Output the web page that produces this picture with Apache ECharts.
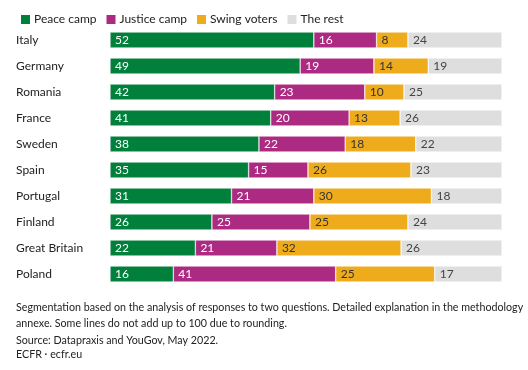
<!DOCTYPE html>
<html><head><meta charset="utf-8">
<script src="https://cdn.jsdelivr.net/npm/echarts@6/dist/echarts.min.js"></script>
<style>html,body{margin:0;padding:0;background:#fff}#c{width:528px;height:370px}</style>
</head><body><div id="c"></div>
<script>
const countries = ['Italy','Germany','Romania','France','Sweden','Spain','Portugal','Finland','Great Britain','Poland'];
const peace   = [52,49,42,41,38,35,31,26,22,16];
const justice = [16,19,23,20,22,15,21,25,21,41];
const swing   = [8,14,10,13,18,26,30,25,32,25];
const rest    = [24,19,25,26,22,23,18,24,26,17];
const seriesNames = ['Peace camp','Justice camp','Swing voters','The rest'];
const colors = ['#00803B','#AD2A82','#EEAC1D','#DEDEDE'];
const labelColors = ['#fff','#fff','#333','#444'];
const FONT = 'Lato';

const raw = [peace, justice, swing, rest];
const totals = countries.map((_, i) => raw.reduce((s, a) => s + a[i], 0));

const chart = echarts.init(document.getElementById('c'));
chart.setOption({
  animation: false,
  textStyle: { fontFamily: FONT },
  legend: {
    left: 14, top: 8, itemWidth: 11, itemHeight: 11, itemGap: 8,
    icon: 'rect',
    textStyle: { fontSize: 12, color: '#222', fontFamily: FONT, padding: [0,0,0,-2] },
    data: seriesNames
  },
  grid: { left: 110, right: 26, top: 27, bottom: 83, containLabel: false },
  xAxis: { type: 'value', min: 0, max: 100, show: false },
  yAxis: {
    type: 'category', data: countries, inverse: true,
    axisLine: { show: false }, axisTick: { show: false },
    axisLabel: { align: 'left', margin: 94, fontSize: 12, color: '#222', fontFamily: FONT }
  },
  series: raw.map((arr, k) => ({
    name: seriesNames[k], type: 'bar', stack: 'all', barWidth: 16,
    itemStyle: { color: colors[k], borderColor: '#fff', borderWidth: 0.5 },
    label: {
      show: true, position: 'insideLeft', distance: 5,
      color: labelColors[k], fontSize: 12, fontFamily: FONT,
      formatter: p => String(arr[p.dataIndex])
    },
    data: arr.map((v, i) => v / totals[i] * 100)
  })),
  graphic: [
    { type: 'text', left: 16, top: 300, style: { text: 'Segmentation based on the analysis of responses to two questions. Detailed explanation in the methodology\nannexe. Some lines do not add up to 100 due to rounding.', fontSize: 10.7, lineHeight: 16, fill: '#222', fontFamily: FONT } },
    { type: 'text', left: 16, top: 335, style: { text: 'Source: Datapraxis and YouGov, May 2022.', fontSize: 10.7, fill: '#222', fontFamily: FONT } },
    { type: 'text', left: 16, top: 349, style: { text: 'ECFR · ecfr.eu', fontSize: 10.7, fill: '#222', fontFamily: FONT } }
  ]
});
</script></body></html>
